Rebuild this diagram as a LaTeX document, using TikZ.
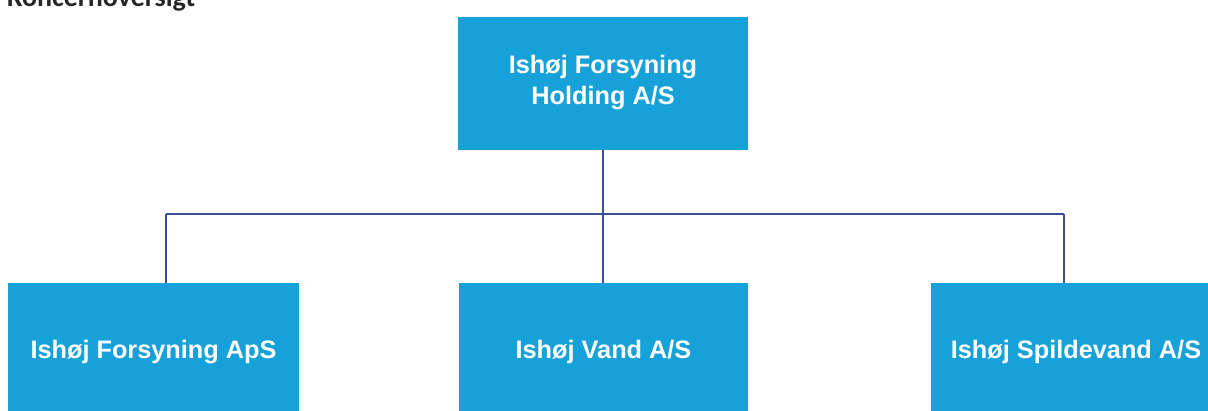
\documentclass[tikz,border=0pt]{standalone}
\usepackage{fontspec}
\setmainfont{Liberation Sans}
\newfontfamily\titlefont{Carlito}
\definecolor{boxblue}{RGB}{22,161,216}
\definecolor{linkblue}{RGB}{58,78,150}
\begin{document}
\begin{tikzpicture}[x=1pt,y=-1pt,
  orgbox/.style={fill=boxblue, draw=none, inner sep=0pt, align=center,
    font=\fontsize{25.3}{31}\selectfont\bfseries, text=white},
  link/.style={draw=linkblue, line width=1.6pt}]
\useasboundingbox (0,0) rectangle (1208,410);
\node[anchor=base west, inner sep=0pt, font=\titlefont\fontsize{28}{32}\selectfont\bfseries, text=black!85] (title) at (7,6.5) {Koncernoversigt};
\node[orgbox, minimum width=290pt, minimum height=133pt] (top) at (603,83) {Ishøj Forsyning\\Holding A/S};
\node[orgbox, minimum width=291pt, minimum height=138pt] (left) at (153.5,352) {Ishøj Forsyning ApS};
\node[orgbox, minimum width=289pt, minimum height=138pt] (mid) at (603.5,352) {Ishøj Vand A/S};
\node[orgbox, minimum width=291pt, minimum height=138pt, anchor=north west] (right) at (931,283) {};
\node[font=\fontsize{25.3}{31}\selectfont\bfseries, text=white, inner sep=0pt] (rlabel) at (1076,352) {Ishøj Spildevand A/S};
\coordinate (j) at (603,214);
\coordinate (jl) at (166,214);
\coordinate (jr) at (1064,214);
\draw[link] (top.south -| j) -- (j);
\draw[link] (jl) -- (jr);
\draw[link] (jl) -- (jl |- left.north);
\draw[link] (j) -- (j |- mid.north);
\draw[link] (jr) -- (jr |- right.north);
\end{tikzpicture}
\end{document}
